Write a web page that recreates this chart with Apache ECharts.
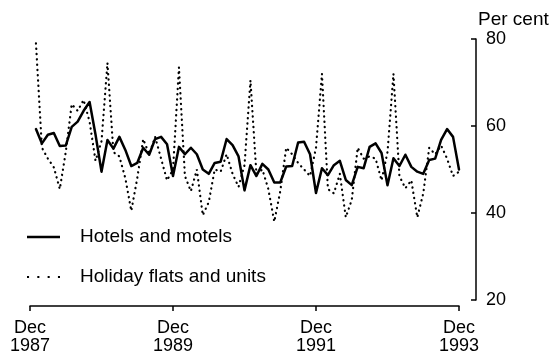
<!DOCTYPE html>
<html>
<head>
<meta charset="utf-8">
<script src="https://cdn.jsdelivr.net/npm/echarts@6/dist/echarts.min.js"></script>
<style>
html,body{margin:0;padding:0;background:#fff;}
#chart{width:551px;height:359px;}
</style>
</head>
<body>
<div id="chart"></div>
<script>
// Monthly categories, Dec 1987 .. Dec 1993
var monthNames = ["Jan","Feb","Mar","Apr","May","Jun","Jul","Aug","Sep","Oct","Nov","Dec"];
var years = [1988, 1989, 1990, 1991, 1992, 1993];
var categories = ["Dec 1987"];
years.forEach(function (y) { monthNames.forEach(function (m) { categories.push(m + " " + y); }); });

// Tick labels shown on the x axis
var tickLabels = {"Dec 1987": "Dec\n1987", "Dec 1989": "Dec\n1989", "Dec 1991": "Dec\n1991", "Dec 1993": "Dec\n1993"};

// Hotels and motels (per cent), Dec 1987 .. Dec 1993
var hotelsMotels = [null,
  59.3, 56.0, 58.0, 58.4, 55.4, 55.5, 59.8, 61.0, 63.5, 65.5, 58.0, 49.5,
  56.8, 54.8, 57.5, 54.5, 50.8, 51.5, 55.0, 53.4, 57.0, 57.5, 55.8, 48.5,
  55.2, 53.5, 55.0, 53.5, 50.0, 49.0, 51.5, 51.8, 57.0, 55.6, 53.0, 45.2,
  51.0, 48.5, 51.3, 50.0, 47.0, 47.0, 50.7, 50.8, 56.2, 56.4, 53.5, 44.6,
  50.3, 48.7, 51.0, 52.0, 47.6, 46.4, 50.6, 50.3, 55.2, 56.0, 53.8, 46.4,
  52.6, 50.8, 53.4, 50.6, 49.5, 49.0, 52.2, 52.5, 56.8, 59.3, 57.5, 50.0];

// Holiday flats and units (per cent), Dec 1987 .. Dec 1993
var holidayFlats = [null,
  79.0, 55.0, 52.5, 50.5, 45.5, 54.0, 65.0, 63.5, 66.0, 61.0, 52.0, 56.5,
  74.5, 54.0, 53.0, 48.0, 40.5, 48.0, 57.0, 53.5, 57.5, 52.5, 47.5, 50.0,
  73.5, 48.5, 45.0, 50.0, 39.5, 42.5, 50.0, 49.5, 53.5, 49.0, 46.0, 51.0,
  70.5, 49.0, 50.0, 45.5, 38.0, 45.0, 55.0, 53.5, 51.5, 50.0, 48.5, 55.0,
  72.0, 45.5, 44.5, 49.0, 39.0, 43.0, 55.0, 52.5, 53.0, 52.5, 47.5, 54.0,
  72.0, 48.5, 45.7, 47.5, 39.0, 44.5, 55.0, 53.5, 55.5, 52.5, 48.5, 49.5];

var FONT = "Liberation Sans, Arial, Helvetica, sans-serif";
var chart = echarts.init(document.getElementById('chart'), null, {renderer: 'canvas'});
chart.setOption({
  animation: false,
  backgroundColor: '#ffffff',
  title: {
    text: 'Per cent', left: 478, top: 10, padding: 0,
    textStyle: {fontFamily: FONT, fontSize: 19, fontWeight: 'normal', color: '#000'}
  },
  legend: {
    orient: 'vertical', left: 27, top: 227,
    itemWidth: 33, itemHeight: 14, itemGap: 20, padding: 0,
    textStyle: {fontFamily: FONT, fontSize: 19, color: '#000', lineHeight: 20, padding: [0, 0, 0, 15]},
    data: [
      {name: 'Hotels and motels', icon: 'path://M0,0h33v2.4h-33z'},
      {name: 'Holiday flats and units', icon: 'path://M0,0h2v2h-2z M10,0h2v2h-2z M20,0h2v2h-2z M30,0h2v2h-2z'}
    ]
  },
  grid: {left: 30, right: 92, top: 39, bottom: 59, containLabel: false},
  xAxis: {
    type: 'category', data: categories, boundaryGap: false, offset: 6,
    axisLine: {lineStyle: {color: '#000', width: 1.5}},
    axisTick: {interval: 23, length: 5, lineStyle: {color: '#000', width: 1.5}},
    axisLabel: {
      interval: 23, margin: 13, fontFamily: FONT, fontSize: 18, lineHeight: 18, color: '#000',
      formatter: function (v) { return tickLabels[v] || ''; }
    },
    splitLine: {show: false}
  },
  yAxis: {
    type: 'value', position: 'right', min: 20, max: 80, interval: 20, offset: 17,
    axisLine: {show: true, lineStyle: {color: '#000', width: 1.5}},
    axisTick: {show: true, inside: true, length: 5, lineStyle: {color: '#000', width: 1.5}},
    axisLabel: {margin: 10, fontFamily: FONT, fontSize: 18, color: '#000'},
    splitLine: {show: false}
  },
  series: [
    {
      name: 'Hotels and motels', type: 'line', data: hotelsMotels,
      symbol: 'none', showSymbol: false, connectNulls: false,
      lineStyle: {color: '#000', width: 2.5, type: 'solid', join: 'round', cap: 'round'},
      itemStyle: {color: '#000'}, z: 3
    },
    {
      name: 'Holiday flats and units', type: 'line', data: holidayFlats,
      symbol: 'none', showSymbol: false,
      lineStyle: {color: '#000', width: 2.2, type: [0.3, 5], cap: 'round'},
      itemStyle: {color: '#000'}, z: 2
    }
  ]
});
</script>
</body>
</html>
